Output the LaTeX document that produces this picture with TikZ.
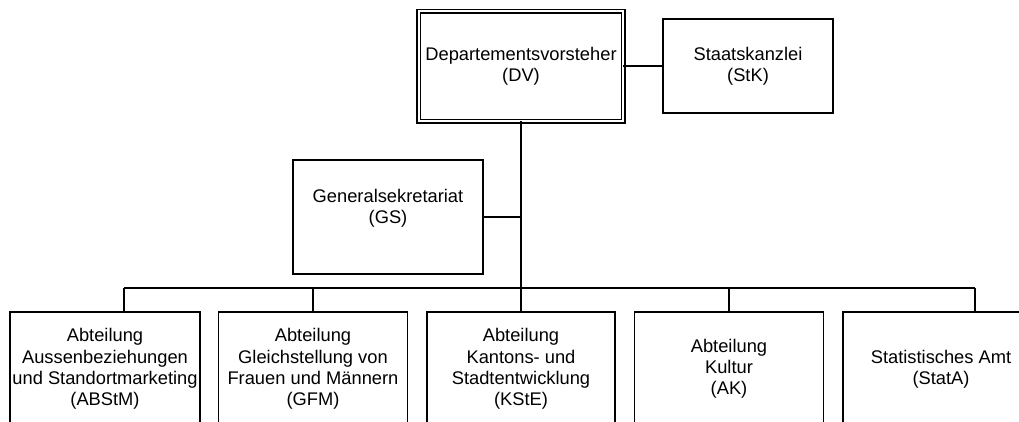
\documentclass[tikz,border=0pt]{standalone}
\usepackage{fontspec}
\setmainfont{Liberation Sans}
\newcommand{\orgfont}{\fontsize{18.3}{21.2}\selectfont}
\begin{document}
\begin{tikzpicture}[x=1pt,y=-1pt,
  orgbox/.style={draw=black, line width=1.4pt, minimum width=190pt, minimum height=114pt, align=center, inner sep=0pt, outer sep=0pt, font=\orgfont, fill=white},
  dvbox/.style={orgbox, double, double distance=2.2pt, minimum width=204.5pt, minimum height=110pt},
  conn/.style={draw=black, line width=1.4pt}]
\useasboundingbox (0,0) rectangle (1019,421);
\fill[white] (0,0) rectangle (1019,421);
\begin{scope}
\clip (0,0) rectangle (1019,421);
% nodes
\node[dvbox] (dv) at (521,66) {Departementsvorsteher\\(DV)};
\node[orgbox, minimum width=170pt, minimum height=94pt] (stk) at (748,66) {Staatskanzlei\\(StK)};
\node[orgbox] (gs) at (388,217) {Generalsekretariat\\(GS)\\\mbox{}};
\node[orgbox] (abstm) at (105,369) {Abteilung\\Aussenbeziehungen\\und Standortmarketing\\(ABStM)};
\node[orgbox, minimum width=189pt] (gfm) at (313,369) {Abteilung\\Gleichstellung von\\Frauen und Männern\\(GFM)};
\node[orgbox, minimum width=188pt] (kste) at (521,369) {Abteilung\\Kantons- und\\Stadtentwicklung\\(KStE)};
\node[orgbox, minimum width=189pt] (ak) at (729,369) {Abteilung\\Kultur\\(AK)};
\node[orgbox, minimum width=196pt] (stata) at (941,369) {Statistisches Amt\\(StatA)};
% coordinates
\coordinate (busL) at (124,288);
\coordinate (busR) at (975,288);
\coordinate (busM) at (521,288);
% connectors
\draw[conn] (dv.east) -- (stk.west);
\draw[conn] (dv.south) -- (busM);
\draw[conn] (gs.east) -- (gs.east -| dv.south);
\draw[conn] (busL) -- (busR);
\draw[conn] (busL) -- (busL |- abstm.north);
\draw[conn] (gfm.north |- busL) -- (gfm.north);
\draw[conn] (busM) -- (kste.north);
\draw[conn] (ak.north |- busL) -- (ak.north);
\draw[conn] (busR) -- (busR |- stata.north);
\end{scope}
\end{tikzpicture}
\end{document}
